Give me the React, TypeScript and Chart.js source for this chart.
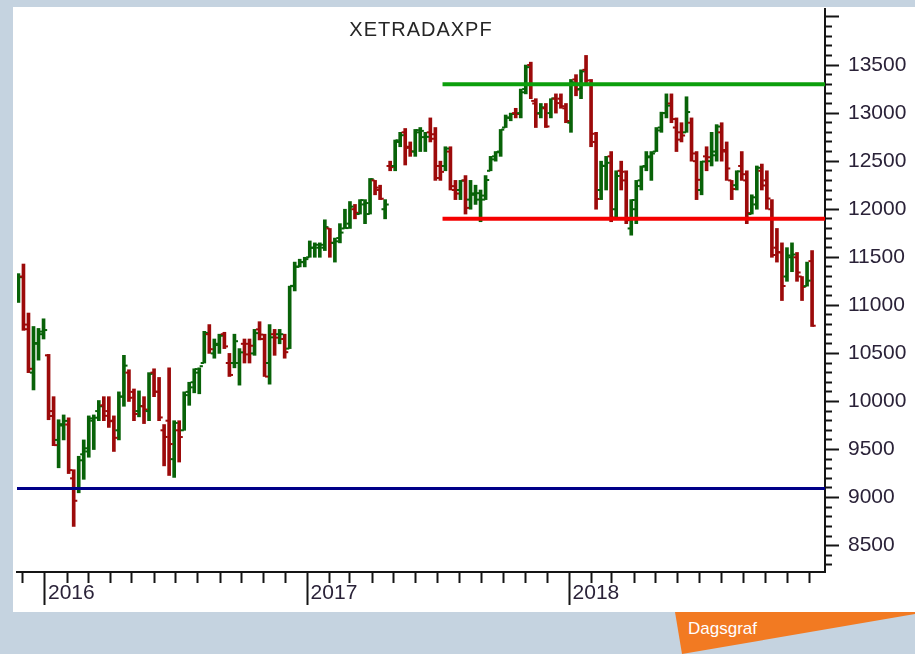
import React, { useEffect, useRef } from 'react';
import { Chart, registerables } from 'chart.js';

Chart.register(...registerables);

// ---- data (weekly OHLC, weeks starting Monday) ----
const FIRST_WEEK = '2015-11-23';
const weekOpen = [
  11090, 11300, 10800, 10300, 10600, 10700,
  10480, 9900, 9600, 9750, 9760, 9200, 9100, 9450, 9480, 9800, 9900, 9960, 9900, 9800,
  9700, 10050, 10300, 10100, 9900, 9950, 9900, 10300, 10100, 9700, 9800, 9400, 9700,
  9700, 10100, 10200, 10300, 10400, 10700, 10500, 10600, 10700, 10400, 10400, 10400,
  10600, 10600, 10500, 10750, 10650, 10400, 10700, 10700, 10650, 10550, 11200, 11400, 11450,
  11500, 11600, 11600, 11600, 11800, 11650, 11700, 11800, 11850, 12000, 11950, 12050, 11950,
  12300, 12200, 12000, 12450, 12450, 12700, 12800, 12650, 12600, 12800, 12750, 12800, 12780,
  12450, 12450, 12600, 12200, 12200, 12300, 12100, 12150, 12100, 12100, 12400, 12550, 12600,
  12850, 12950, 13000, 13000, 13250, 13500, 13100, 13000, 13050, 13000, 13150, 13150, 13050,
  12900, 13350, 13250, 13450, 13300, 12700, 12200, 12450, 12550, 12000, 12400, 12300, 11800,
  12000, 12300, 12450, 12550, 12600, 12850, 13000, 13100, 12850, 12800, 12800, 12900, 12500,
  12200, 12550, 12500, 12600, 12800, 12600, 12300, 12250, 12450, 12300, 11950, 12050, 12400,
  12300, 12000, 11600, 11550, 11300, 11500, 11500, 11300, 11200, 11460,
];
const weekHigh = [
  11330, 11430, 10920, 10780, 10760, 10860,
  10490, 10050, 9810, 9860, 9830, 9290, 9430, 9600, 9850, 9860, 10010, 10050, 10050, 9850,
  10100, 10480, 10330, 10130, 10110, 10050, 10300, 10340, 10250, 9760, 10350, 9800, 9800,
  10100, 10200, 10340, 10350, 10730, 10800, 10650, 10700, 10720, 10500, 10700, 10550,
  10650, 10650, 10750, 10830, 10700, 10800, 10750, 10750, 10700, 11200, 11450, 11480, 11500,
  11670, 11650, 11650, 11890, 11800, 11700, 11850, 12000, 12080, 12050, 12100, 12100, 12320,
  12300, 12250, 12100, 12500, 12720, 12800, 12840, 12700, 12830, 12850, 12800, 12950, 12850,
  12500, 12650, 12650, 12300, 12300, 12350, 12300, 12250, 12200, 12350, 12550, 12600, 12830,
  12980, 13000, 13050, 13250, 13500, 13530, 13150, 13100, 13100, 13150, 13200, 13200, 13100,
  13350, 13400, 13450, 13600, 13350, 12800, 12500, 12550, 12600, 12400, 12500, 12400, 12100,
  12300, 12450, 12600, 12600, 12850, 13010, 13200, 13200, 12950, 12900, 13170, 12950, 12600,
  12500, 12650, 12800, 12880, 12900, 12700, 12300, 12400, 12600, 12400, 12150, 12450, 12470,
  12400, 12100, 11800, 11650, 11600, 11650, 11550, 11300, 11450, 11570,
];
const weekLow = [
  11030, 10740, 10300, 10120, 10430, 10650,
  9810, 9540, 9310, 9600, 9250, 8700, 9050, 9190, 9420, 9500, 9800, 9800, 9730, 9480,
  9600, 9950, 10000, 9800, 9840, 9770, 9800, 10050, 9800, 9330, 9230, 9210, 9370,
  9700, 9960, 10090, 10080, 10400, 10500, 10450, 10500, 10550, 10260, 10350, 10170,
  10400, 10400, 10480, 10640, 10260, 10180, 10480, 10600, 10450, 10550, 11150, 11400, 11400,
  11500, 11500, 11500, 11570, 11500, 11450, 11650, 11800, 11800, 11900, 11950, 11850, 11950,
  12150, 12100, 11900, 12400, 12400, 12650, 12460, 12550, 12550, 12600, 12600, 12700, 12300,
  12300, 12400, 12200, 12100, 12100, 11950, 12000, 12050, 11870, 12100, 12400, 12500, 12550,
  12850, 12920, 12950, 12950, 13200, 13150, 12850, 12950, 12850, 12950, 13000, 13050, 12900,
  12800, 13180, 13150, 13300, 12650, 12000, 12100, 12200, 11870, 11900, 12200, 11850, 11730,
  11850, 12200, 12400, 12300, 12600, 12800, 12950, 12900, 12600, 12700, 12800, 12500, 12100,
  12150, 12400, 12450, 12500, 12500, 12300, 12100, 12200, 12300, 11850, 11950, 12000, 12200,
  12000, 11500, 11450, 11050, 11250, 11350, 11250, 11050, 11200, 10780,
];
const weekClose = [
  11293, 10752, 10340, 10608, 10727, 10743,
  9849, 9546, 9764, 9798, 9286, 8967, 9388, 9513, 9824, 9831, 9950, 9851, 9795, 9622,
  10051, 10373, 10039, 9870, 9952, 9916, 10287, 10103, 9834, 9631, 9557, 9777, 9630,
  10066, 10147, 10337, 10367, 10713, 10544, 10587, 10684, 10573, 10276, 10627, 10511,
  10490, 10580, 10711, 10696, 10259, 10667, 10664, 10700, 10513, 11203, 11404, 11450, 11481,
  11599, 11630, 11630, 11814, 11651, 11666, 11757, 11804, 12027, 11963, 12095, 12064, 12313,
  12225, 12109, 12049, 12438, 12717, 12770, 12638, 12602, 12823, 12815, 12753, 12733, 12325,
  12389, 12631, 12240, 12163, 12297, 12014, 12165, 12167, 12142, 12304, 12519, 12592, 12828,
  12955, 12991, 12991, 13217, 13478, 13127, 12994, 13060, 12861, 13153, 13104, 13072, 12918,
  13320, 13245, 13434, 13340, 12785, 12107, 12452, 12483, 11913, 12346, 12390, 11886, 12096,
  12241, 12442, 12540, 12580, 12820, 13001, 13078, 12938, 12724, 12767, 13011, 12580, 12306,
  12496, 12541, 12561, 12860, 12616, 12424, 12210, 12394, 12364, 11960, 12124, 12431, 12247,
  12112, 11524, 11554, 11201, 11519, 11529, 11342, 11192, 11257, 10788,
];

const yearLabels = ['2016', '2017', '2018'];
const priceLabels = ['8500', '9000', '9500', '10000', '10500', '11000', '11500', '12000', '12500', '13000', '13500'];

const resistanceLevel = 13300;
const supportLevel = 11900;
const bottomLevel = 9095;
const levelLinesFrom = '2017-07-08';

const xFrom = '2015-11-23';
const xTo = '2018-12-23';
const yFrom = 8226;
const yTo = 14083;
const yMinorStep = 100;

const TITLE = 'XETRADAXPF';
const TAG = 'Dagsgraf';

// ---- helpers ----
const DAY = 86400000;
const ORIGIN = Date.UTC(2016, 0, 1);
const dayOf = (iso: string) => (Date.parse(iso + 'T00:00:00Z') - ORIGIN) / DAY;
const isYearStart = (v: number) => {
  const d = new Date(ORIGIN + Math.round(v) * DAY);
  return d.getUTCMonth() === 0 && d.getUTCDate() === 1;
};

const GREEN = '#086208';
const RED = '#9c0a0a';
const AXIS = '#151515';

export default function App() {
  const ref = useRef<HTMLCanvasElement>(null);

  useEffect(() => {
    if (!ref.current) return;
    const first = dayOf(FIRST_WEEK);
    const minX = dayOf(xFrom);
    const maxX = dayOf(xTo);

    const centre = (i: number) => first + 7 * i + 2;
    const bars = weekOpen.map((o, i) => ({ x: centre(i), y: [weekLow[i], weekHigh[i]] }));
    const barColors = weekOpen.map((o, i) => (weekClose[i] >= o ? GREEN : RED));
    const openTicks = weekOpen.map((o, i) => ({ x: centre(i) - 2.8, y: o }));
    const closeTicks = weekClose.map((c, i) => ({ x: centre(i) + 2.8, y: c }));

    const monthTicks: number[] = [];
    for (let y = 2015; y <= 2018; y++) {
      for (let m = 0; m < 12; m++) {
        const v = (Date.UTC(y, m, 1) - ORIGIN) / DAY;
        if (v >= minX && v <= maxX) monthTicks.push(v);
      }
    }
    const yTicks: number[] = [];
    for (let v = Math.ceil(yFrom / yMinorStep) * yMinorStep; v <= yTo; v += yMinorStep) yTicks.push(v);

    const lx0 = dayOf(levelLinesFrom);

    const titlePlugin = {
      id: 'titleInside',
      afterDatasetsDraw(chart: any) {
        const { ctx, chartArea } = chart;
        ctx.save();
        ctx.font = '20px "Liberation Sans", Arial, sans-serif';
        (ctx as any).letterSpacing = '1px';
        ctx.fillStyle = '#262626';
        ctx.textAlign = 'center';
        ctx.textBaseline = 'alphabetic';
        ctx.fillText(TITLE, (chartArea.left + chartArea.right) / 2, 36);
        ctx.restore();
      },
    };

    Chart.defaults.font.family = '"Liberation Sans", Arial, sans-serif';

    const tickSet = (pts: any[]) => ({
      type: 'line',
      data: pts,
      showLine: false,
      pointStyle: 'line',
      pointRadius: 1.6,
      pointBorderWidth: 2,
      pointBorderColor: barColors,
      pointBackgroundColor: barColors,
      order: 1,
    });

    const chart = new Chart(ref.current, {
      type: 'bar',
      data: {
        datasets: [
          {
            type: 'line',
            data: [{ x: lx0, y: resistanceLevel }, { x: maxX, y: resistanceLevel }],
            borderColor: '#0c9f0c',
            borderWidth: 4,
            pointRadius: 0,
            order: 0,
          } as any,
          {
            type: 'line',
            data: [{ x: lx0, y: supportLevel }, { x: maxX, y: supportLevel }],
            borderColor: '#f50000',
            borderWidth: 4,
            pointRadius: 0,
            order: 0,
          } as any,
          {
            type: 'line',
            data: [{ x: minX, y: bottomLevel }, { x: maxX, y: bottomLevel }],
            borderColor: '#000088',
            borderWidth: 3,
            pointRadius: 0,
            order: 0,
          } as any,
          tickSet(openTicks) as any,
          tickSet(closeTicks) as any,
          {
            type: 'bar',
            data: bars as any,
            backgroundColor: barColors,
            borderWidth: 0,
            barThickness: 3,
            grouped: false,
            order: 2,
          } as any,
        ],
      },
      options: {
        responsive: false,
        animation: false,
        events: [],
        layout: { padding: { left: 17, top: 9, right: 0, bottom: 0 } },
        plugins: { legend: { display: false }, tooltip: { enabled: false }, title: { display: false } },
        scales: {
          x: {
            type: 'linear',
            min: minX,
            max: maxX,
            offset: false,
            afterBuildTicks: (scale: any) => {
              scale.ticks = monthTicks.map((v) => ({ value: v }));
            },
            afterFit: (scale: any) => {
              scale.height = 82;
              scale.paddingLeft = 0;
              scale.paddingRight = 0;
              scale.paddingTop = 0;
              scale.paddingBottom = 0;
            },
            grid: {
              offset: false,
              drawOnChartArea: false,
              drawTicks: true,
              tickLength: 33,
              tickWidth: 2,
              tickColor: AXIS,
              tickBorderDash: (ctx: any) => (ctx.tick && isYearStart(ctx.tick.value) ? [] : [10, 200]),
            } as any,
            border: { display: true, color: AXIS, width: 2 },
            ticks: {
              autoSkip: false,
              maxRotation: 0,
              minRotation: 0,
              align: 'start',
              labelOffset: 3,
              padding: -24,
              color: '#2a2238',
              font: { size: 21 },
              callback: (value: any) => {
                if (!isYearStart(value)) return '';
                const yr = new Date(ORIGIN + Math.round(value) * DAY).getUTCFullYear();
                return yearLabels.find((l) => +l === yr) ?? '';
              },
            },
          },
          y: {
            type: 'linear',
            position: 'right',
            min: yFrom,
            max: yTo,
            beginAtZero: false,
            afterBuildTicks: (scale: any) => {
              scale.ticks = yTicks.map((v) => ({ value: v }));
            },
            afterFit: (scale: any) => {
              scale.width = 90;
              scale.paddingTop = 0;
              scale.paddingBottom = 0;
              scale.paddingLeft = 0;
              scale.paddingRight = 0;
            },
            grid: {
              drawOnChartArea: false,
              drawTicks: true,
              tickLength: 14,
              tickWidth: 2,
              tickColor: AXIS,
              tickBorderDash: (ctx: any) => (ctx.tick && ctx.tick.value % 500 === 0 ? [] : [6, 200]),
            } as any,
            border: { display: true, color: AXIS, width: 2 },
            ticks: {
              autoSkip: false,
              padding: 9,
              color: '#2a2238',
              font: { size: 21 },
              callback: (value: any) => (priceLabels.includes(String(value)) ? String(value) : ''),
            },
          },
        },
      },
      plugins: [titlePlugin],
    });
    return () => chart.destroy();
  }, []);

  return (
    <div style={{ position: 'fixed', left: 0, top: 0, width: 915, height: 654, background: '#c5d3e0', overflow: 'hidden' }}>
      <div style={{ position: 'absolute', left: 13, top: 7, width: 902, height: 605, background: '#ffffff' }} />
      <div
        style={{
          position: 'absolute',
          left: 675,
          top: 612,
          width: 240,
          height: 42,
          background: '#f27a22',
          clipPath: 'polygon(0px 0px, 240px 0px, 240px 2px, 7px 42px)',
        }}
      />
      <div
        style={{
          position: 'absolute',
          left: 688,
          top: 619,
          color: '#ffffff',
          font: '17px "Liberation Sans", Arial, sans-serif',
          lineHeight: '20px',
        }}
      >
        {TAG}
      </div>
      <canvas ref={ref} width={915} height={654} style={{ position: 'absolute', left: 0, top: 0, width: 915, height: 654 }} />
    </div>
  );
}
